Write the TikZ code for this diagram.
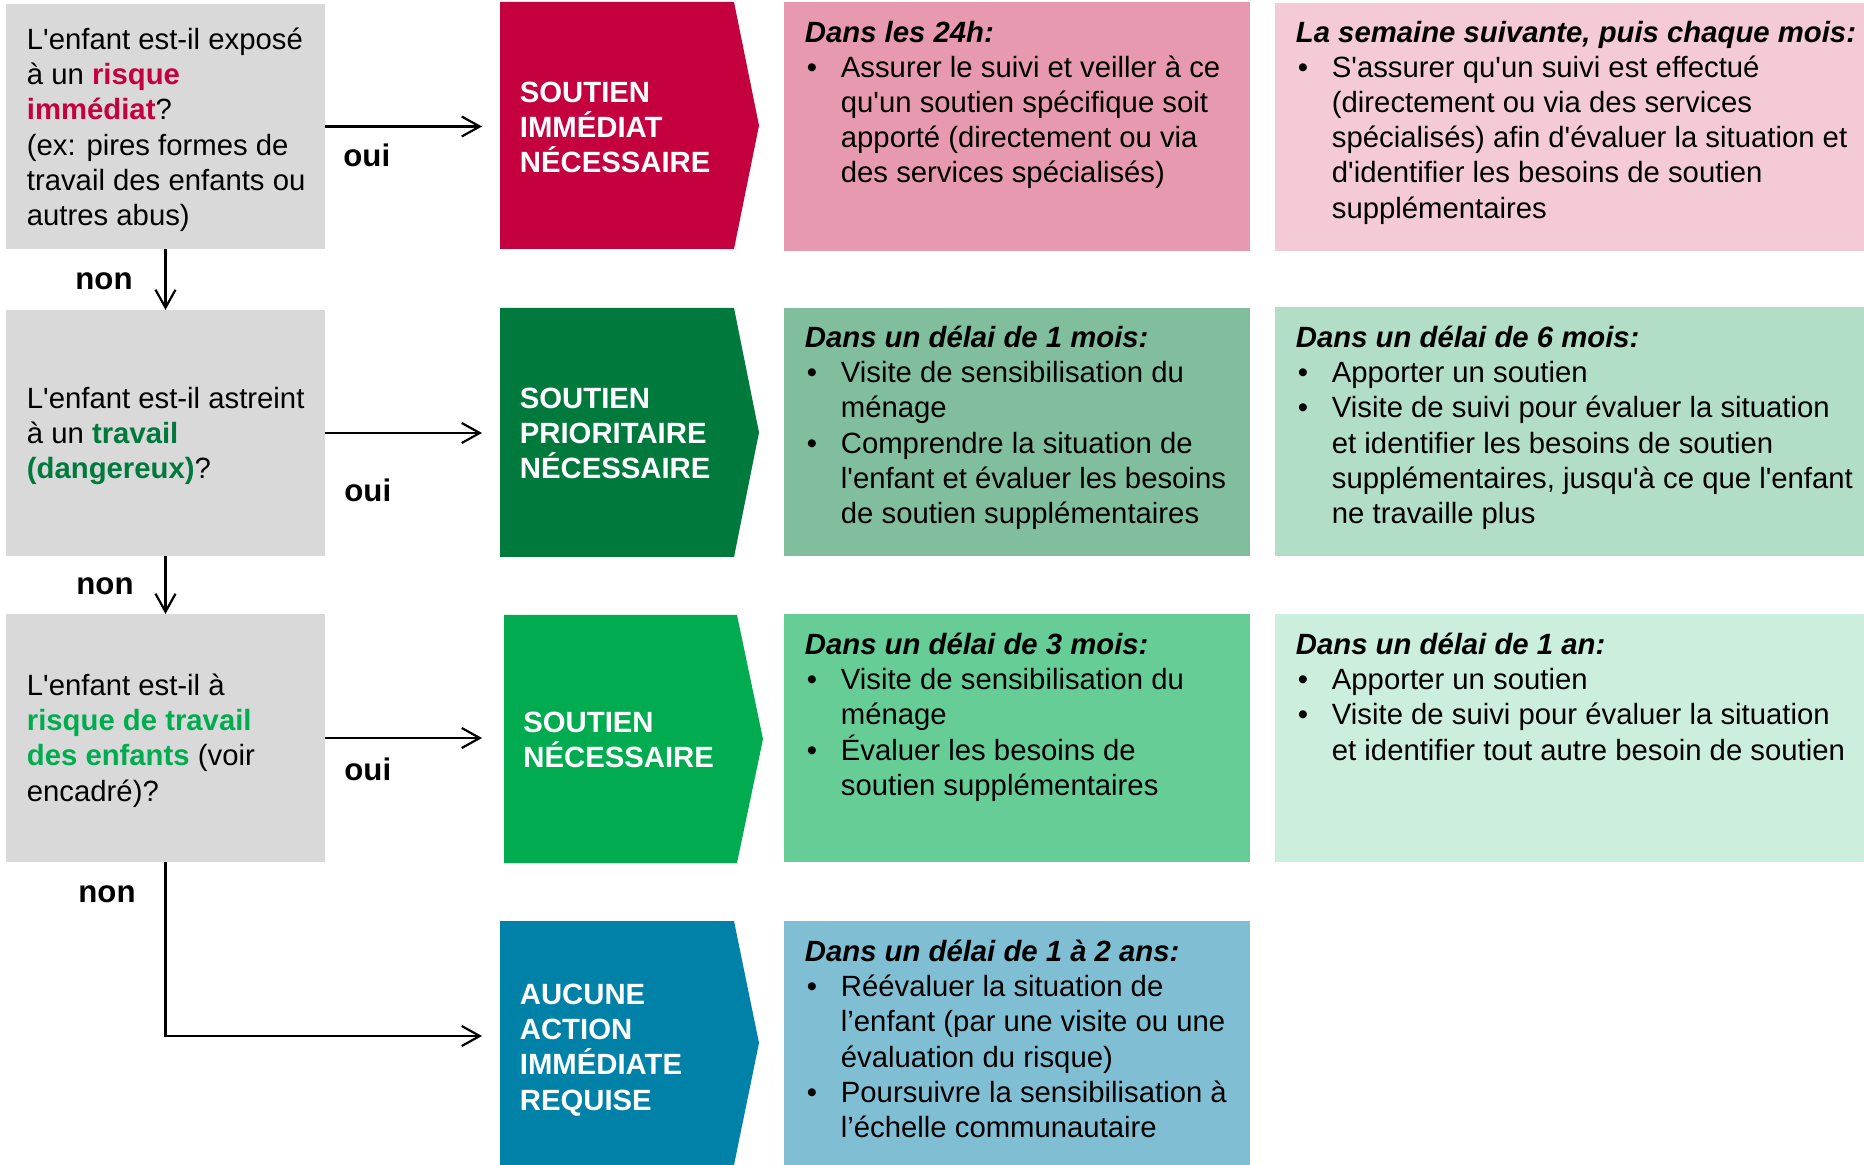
\documentclass[tikz,border=0pt]{standalone}
\usepackage{fontspec}
\newfontfamily\arial{Liberation Sans}
\usetikzlibrary{arrows.meta,fit}
\definecolor{qgrey}{HTML}{D9D9D9}
\definecolor{cred}{HTML}{C5003E}
\definecolor{cpinkA}{HTML}{E799B0}
\definecolor{cpinkB}{HTML}{F3CAD6}
\definecolor{cdgreen}{HTML}{00793D}
\definecolor{cdgreenA}{HTML}{80BE9D}
\definecolor{cdgreenB}{HTML}{B2DDC6}
\definecolor{cbgreen}{HTML}{00AC4F}
\definecolor{cbgreenA}{HTML}{66CD96}
\definecolor{cbgreenB}{HTML}{CCEEDC}
\definecolor{cblue}{HTML}{0081A7}
\definecolor{cblueA}{HTML}{80BFD3}
\newcommand\tstrut{\rule{0pt}{12.32pt}}
\newcommand\bul{\makebox[18pt][l]{\hspace{1pt}•}}
\newcommand\ind{\makebox[18pt]{}}
\newcommand\ttl[1]{\tstrut\textbf{\textit{#1}}}
\tikzset{
  area/.style={inner sep=0pt, outer sep=0pt},
  txt/.style={font=\arial\fontsize{14.65}{17.6}\selectfont, inner sep=0pt, align=left, anchor=north west},
  lbl/.style={txt, text=white, font=\arial\bfseries\fontsize{14.65}{17.6}\selectfont},
  yn/.style={font=\arial\bfseries\fontsize{15.6}{18}\selectfont, inner sep=0pt, anchor=base west},
  conn/.style={line width=1.1pt, -{Straight Barb[length=9pt,width=10pt,line width=1.1pt]}}
}
\begin{document}
\begin{tikzpicture}[x=0.5pt,y=-0.5pt]
\useasboundingbox (0,0) rectangle (1864,1165);
% question boxes
\node[area, fill=qgrey, fit={(6,4) (325,249)}] (q1) {};
\node[area, fill=qgrey, fit={(6,310) (325,556)}] (q2) {};
\node[area, fill=qgrey, fit={(6,614) (325,862)}] (q3) {};
\node[txt] (t1) at (26.5,24.4) {\tstrut L'enfant est-il exposé\\à un \textcolor{cred}{\textbf{risque}}\\\textcolor{cred}{\textbf{immédiat}}?\\(ex: pires formes de\\travail des enfants ou\\autres abus)};
\node[txt] (t2) at (26.5,383.4) {\tstrut L'enfant est-il astreint\\à un \textcolor{cdgreen}{\textbf{travail}}\\\textcolor{cdgreen}{\textbf{(dangereux)}}?};
\node[txt] (t3) at (26.5,670.4) {\tstrut L'enfant est-il à\\\textcolor{cbgreen}{\textbf{risque de travail}}\\\textcolor{cbgreen}{\textbf{des enfants}} (voir\\encadré)?};
% chevrons
\node[area, fit={(500,2) (734,249)}] (s1) {};
\node[area, fit={(500,308) (734,557)}] (s2) {};
\node[area, fit={(504,615) (737,863)}] (s3) {};
\node[area, fit={(500,921) (734,1165)}] (s4) {};
\fill[cred] (s1.north west) -- (s1.north east) -- ([xshift=12.5pt]s1.east) -- (s1.south east) -- (s1.south west) -- cycle;
\fill[cdgreen] (s2.north west) -- (s2.north east) -- ([xshift=12.5pt]s2.east) -- (s2.south east) -- (s2.south west) -- cycle;
\fill[cbgreen] (s3.north west) -- (s3.north east) -- ([xshift=13pt]s3.east) -- (s3.south east) -- (s3.south west) -- cycle;
\fill[cblue] (s4.north west) -- (s4.north east) -- ([xshift=12.5pt]s4.east) -- (s4.south east) -- (s4.south west) -- cycle;
\node[lbl] (l1) at (519.5,77) {\tstrut SOUTIEN\\IMMÉDIAT\\NÉCESSAIRE};
\node[lbl] (l2) at (519.5,383) {\tstrut SOUTIEN\\PRIORITAIRE\\NÉCESSAIRE};
\node[lbl] (l3) at (523,707.4) {\tstrut SOUTIEN\\NÉCESSAIRE};
\node[lbl] (l4) at (519.5,979.4) {\tstrut AUCUNE\\ACTION\\IMMÉDIATE\\REQUISE};
% detail boxes
\node[area, fill=cpinkA, fit={(784,2) (1250,251)}] (d1a) {};
\node[area, fill=cpinkB, fit={(1275,3) (1864,251)}] (d1b) {};
\node[area, fill=cdgreenA, fit={(784,308) (1250,556)}] (d2a) {};
\node[area, fill=cdgreenB, fit={(1275,307) (1864,556)}] (d2b) {};
\node[area, fill=cbgreenA, fit={(784,614) (1250,862)}] (d3a) {};
\node[area, fill=cbgreenB, fit={(1275,614) (1864,862)}] (d3b) {};
\node[area, fill=cblueA, fit={(784,921) (1250,1165)}] (d4a) {};
\node[txt] (e1a) at (804.5,17) {\ttl{Dans les 24h:}\\\bul Assurer le suivi et veiller à ce\\\ind qu'un soutien spécifique soit\\\ind apporté (directement ou via\\\ind des services spécialisés)};
\node[txt] (e1b) at (1295.5,17) {\ttl{La semaine suivante, puis chaque mois:}\\\bul S'assurer qu'un suivi est effectué\\\ind (directement ou via des services\\\ind spécialisés) afin d'évaluer la situation et\\\ind d'identifier les besoins de soutien\\\ind supplémentaires};
\node[txt] (e2a) at (804.5,322.4) {\ttl{Dans un délai de 1 mois:}\\\bul Visite de sensibilisation du\\\ind ménage\\\bul Comprendre la situation de\\\ind l'enfant et évaluer les besoins\\\ind de soutien supplémentaires};
\node[txt] (e2b) at (1295.5,322.4) {\ttl{Dans un délai de 6 mois:}\\\bul Apporter un soutien\\\bul Visite de suivi pour évaluer la situation\\\ind et identifier les besoins de soutien\\\ind supplémentaires, jusqu'à ce que l'enfant\\\ind ne travaille plus};
\node[txt] (e3a) at (804.5,629.4) {\ttl{Dans un délai de 3 mois:}\\\bul Visite de sensibilisation du\\\ind ménage\\\bul Évaluer les besoins de\\\ind soutien supplémentaires};
\node[txt] (e3b) at (1295.5,629.4) {\ttl{Dans un délai de 1 an:}\\\bul Apporter un soutien\\\bul Visite de suivi pour évaluer la situation\\\ind et identifier tout autre besoin de soutien};
\node[txt] (e4a) at (804.5,936.4) {\ttl{Dans un délai de 1 à 2 ans:}\\\bul Réévaluer la situation de\\\ind l’enfant (par une visite ou une\\\ind évaluation du risque)\\\bul Poursuivre la sensibilisation à\\\ind l’échelle communautaire};
% connectors
\draw[conn, shorten >=9pt] (q1.east) -- (q1.east -| s1.west);
\draw[conn, shorten >=9pt] (q2.east) -- (q2.east -| s2.west);
\draw[conn, shorten >=11pt] (q3.east) -- (q3.east -| s3.west);
\draw[conn] (q1.south) -- (q2.north);
\draw[conn] (q2.south) -- (q3.north);
\coordinate (c4) at (q3.south |- 0,1036);
\draw[conn, shorten >=9pt] (q3.south) -- (c4) -- (c4 -| s4.west);
% labels
\node[yn] (oui1) at (343,167) {oui};
\node[yn] (oui2) at (344,502) {oui};
\node[yn] (oui3) at (344,780) {oui};
\node[yn] (non1) at (75,290) {non};
\node[yn] (non2) at (76,595) {non};
\node[yn] (non3) at (78,902) {non};
\end{tikzpicture}
\end{document}
